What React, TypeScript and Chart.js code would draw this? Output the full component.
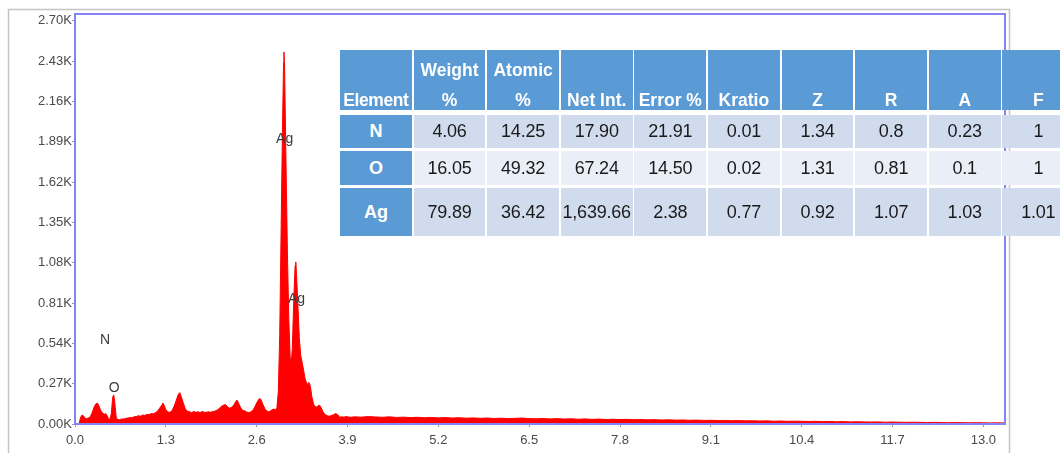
import React, { useEffect, useRef } from "react";
import { Chart, registerables } from "chart.js";

Chart.register(...registerables);

// ---- Spectrum data (energy in keV, counts) ----
const lowEnergyKeV = [
  0.06, 0.08, 0.1, 0.12, 0.14, 0.16, 0.18, 0.2, 0.22, 0.24, 0.26, 0.28, 0.3, 0.32, 0.34, 0.36, 0.38, 0.4,
  0.42, 0.44, 0.46, 0.48, 0.5, 0.52, 0.54, 0.555, 0.57, 0.59, 0.61, 0.64, 0.67, 0.7, 0.73, 0.76, 0.79, 0.82,
  0.85, 0.88, 0.91, 0.94, 0.97, 1.0, 1.03, 1.06, 1.09, 1.12, 1.15, 1.18, 1.21, 1.24, 1.26, 1.28, 1.3, 1.33,
  1.36, 1.39, 1.42, 1.45, 1.48, 1.5, 1.52, 1.55, 1.58, 1.61, 1.64, 1.67, 1.7, 1.73, 1.76, 1.79, 1.82, 1.85,
  1.88, 1.91, 1.94, 1.97, 2.0, 2.03, 2.06, 2.09, 2.12, 2.15, 2.18, 2.21, 2.24, 2.27, 2.3, 2.32, 2.34, 2.37,
  2.4, 2.43, 2.46, 2.49, 2.52, 2.55, 2.58, 2.61, 2.64, 2.66, 2.69, 2.72, 2.75, 2.78, 2.81, 2.84, 2.87, 2.89,
  2.91, 2.93, 2.95, 2.97, 2.985, 2.99, 3.0, 3.02, 3.04, 3.06, 3.08, 3.09, 3.11, 3.13, 3.15, 3.16, 3.17, 3.19,
  3.21, 3.23, 3.26, 3.29, 3.32, 3.35, 3.37, 3.39, 3.42, 3.45, 3.48, 3.5, 3.52, 3.55, 3.58, 3.61, 3.64, 3.67,
  3.7, 3.73, 3.76, 3.79, 3.82, 3.85, 3.88, 3.91, 3.95, 4.0,
];
const lowCounts = [
  5, 45, 60, 55, 40, 35, 38, 42, 50, 70, 95, 120, 135, 140, 125, 100, 80, 72,
  65, 70, 55, 35, 30, 70, 180, 195, 140, 45, 28, 30, 34, 33, 38, 40, 44, 43,
  49, 50, 56, 52, 60, 58, 64, 62, 70, 68, 76, 85, 105, 125, 140, 120, 95, 80,
  78, 90, 120, 160, 200, 210, 185, 140, 100, 85, 82, 76, 84, 78, 82, 76, 84, 79,
  78, 82, 78, 84, 86, 92, 102, 115, 125, 130, 118, 105, 112, 125, 150, 160, 140, 110,
  90, 88, 80, 76, 82, 95, 120, 150, 170, 165, 130, 100, 85, 82, 92, 100, 95, 110,
  220, 600, 1300, 2000, 2420, 2490, 2380, 1750, 1150, 700, 440, 390, 500, 820, 1060, 1085, 1010, 800,
  580, 460, 390, 310, 265, 278, 250, 180, 125, 112, 122, 126, 112, 82, 62, 56, 52, 57,
  62, 70, 62, 46, 48, 46, 50, 47, 45, 48,
];
const tailEnergyKeV = [
  4.1, 4.2, 4.3, 4.4, 4.5, 4.6, 4.7, 4.8, 4.9, 5.0, 5.1, 5.2, 5.3, 5.4, 5.5, 5.6, 5.7, 5.8, 5.9, 6.0,
  6.1, 6.2, 6.3, 6.4, 6.5, 6.6, 6.7, 6.8, 6.9, 7.0, 7.1, 7.2, 7.3, 7.4, 7.5, 7.6, 7.7, 7.8, 7.9, 8.0,
  8.1, 8.2, 8.3, 8.4, 8.5, 8.6, 8.7, 8.8, 8.9, 9.0, 9.1, 9.2, 9.3, 9.4, 9.5, 9.6, 9.7, 9.8, 9.9, 10.0,
  10.1, 10.2, 10.3, 10.4, 10.5, 10.6, 10.7, 10.8, 10.9, 11.0, 11.1, 11.2, 11.3, 11.4, 11.5, 11.6, 11.7,
  11.8, 11.9, 12.0, 12.1, 12.2, 12.3, 12.4, 12.5, 12.6, 12.7, 12.8, 12.9, 13.0, 13.1, 13.2, 13.3,
];
const tailCounts = [
  46, 50, 47, 45, 48, 44, 46, 43, 45, 42, 44, 41, 43, 40, 42, 39, 41, 38, 40, 37,
  39, 36, 38, 40, 36, 35, 37, 34, 36, 33, 35, 32, 34, 31, 33, 30, 32, 30, 31, 29,
  30, 28, 29, 27, 28, 26, 27, 25, 26, 24, 25, 23, 24, 22, 23, 21, 22, 20, 21, 19,
  20, 18, 19, 18, 17, 18, 16, 17, 15, 16, 14, 15, 14, 13, 14, 12, 13,
  12, 11, 12, 11, 10, 11, 10, 9, 10, 9, 8, 9, 8, 7, 8, 7,
];

const xTickValues = [0, 1.3, 2.6, 3.9, 5.2, 6.5, 7.8, 9.1, 10.4, 11.7, 13.0];
const yTickValues = [0, 270, 540, 810, 1080, 1350, 1620, 1890, 2160, 2430, 2700];
const xMax = 13.31;
const yMax = 2745;

const peakLabels = ["N", "O", "Ag", "Ag"];
const peakLabelEnergy = [0.43, 0.56, 3.0, 3.17];
const peakLabelCounts = [563, 240, 1910, 838];

// ---- Quantification table ----
const tableHeaders = ["Element", "Weight %", "Atomic %", "Net Int.", "Error %", "Kratio", "Z", "R", "A", "F"];
const tableElements = ["N", "O", "Ag"];
const weightPct = ["4.06", "16.05", "79.89"];
const atomicPct = ["14.25", "49.32", "36.42"];
const netInt = ["17.90", "67.24", "1,639.66"];
const errorPct = ["21.91", "14.50", "2.38"];
const kratio = ["0.01", "0.02", "0.77"];
const zFactor = ["1.34", "1.31", "0.92"];
const rFactor = ["0.8", "0.81", "1.07"];
const aFactor = ["0.23", "0.1", "1.03"];
const fFactor = ["1", "1", "1.01"];

const HEADER_BLUE = "#5B9BD5";
const ROW_DARK = "#D0DCEE";
const ROW_LIGHT = "#E9EEF7";
const TABLE_FONT = "'Liberation Sans', Arial, sans-serif";
const AXIS_FONT = "'Liberation Sans', Arial, sans-serif";

const colLeft = 340;
const colWidth = 71.8;
const colGap = 1.8;
const rowTops = [50, 115, 151, 188];
const rowHeights = [60, 33, 34, 48];

function QuantTable() {
  const columns = [weightPct, atomicPct, netInt, errorPct, kratio, zFactor, rFactor, aFactor, fFactor];
  const cells: React.ReactNode[] = [];
  tableHeaders.forEach((h, c) => {
    cells.push(
      <div
        key={"h" + c}
        style={{
          position: "absolute",
          left: colLeft + c * (colWidth + colGap),
          top: rowTops[0],
          width: colWidth,
          height: rowHeights[0],
          background: HEADER_BLUE,
          color: "#fff",
          fontWeight: "bold",
          fontSize: 17.5,
          lineHeight: "30px",
          display: "flex",
          alignItems: "flex-end",
          justifyContent: "center",
          textAlign: "center",
          whiteSpace: c === 0 ? "nowrap" : "normal",
          letterSpacing: c === 0 ? "-0.4px" : "normal",
        }}
      >
        <span style={{ position: "relative", top: 5 }}>{h}</span>
      </div>
    );
  });
  tableElements.forEach((el, r) => {
    const bg = r === 1 ? ROW_LIGHT : ROW_DARK;
    cells.push(
      <div
        key={"e" + r}
        style={{
          position: "absolute",
          left: colLeft,
          top: rowTops[r + 1],
          width: colWidth,
          height: rowHeights[r + 1],
          background: HEADER_BLUE,
          color: "#fff",
          fontWeight: "bold",
          fontSize: 18,
          display: "flex",
          alignItems: "center",
          justifyContent: "center",
        }}
      >
        {el}
      </div>
    );
    columns.forEach((col, c) => {
      cells.push(
        <div
          key={"c" + r + "_" + c}
          style={{
            position: "absolute",
            left: colLeft + (c + 1) * (colWidth + colGap),
            top: rowTops[r + 1],
            width: colWidth,
            height: rowHeights[r + 1],
            background: bg,
            color: "#1a1a1a",
            fontSize: 18,
            letterSpacing: "-0.2px",
            display: "flex",
            alignItems: "center",
            justifyContent: "center",
            whiteSpace: "nowrap",
          }}
        >
          {col[r]}
        </div>
      );
    });
  });
  return <div style={{ position: "absolute", left: 0, top: 0, fontFamily: TABLE_FONT }}>{cells}</div>;
}

export default function App() {
  const canvasRef = useRef<HTMLCanvasElement | null>(null);

  useEffect(() => {
    document.body.style.margin = "0";
    document.body.style.overflow = "hidden";
    const canvas = canvasRef.current;
    if (!canvas) return;

    const points = [
      ...lowEnergyKeV.map((e, i) => ({ x: e, y: lowCounts[i] })),
      ...tailEnergyKeV.map((e, i) => ({ x: e, y: tailCounts[i] })),
    ];

    const framePlugin = {
      id: "framePlugin",
      beforeDraw(chart: any) {
        const ctx = chart.ctx;
        ctx.save();
        ctx.fillStyle = "#ffffff";
        ctx.fillRect(0, 0, chart.width, chart.height);
        ctx.strokeStyle = "#C4C4C4";
        ctx.lineWidth = 1.5;
        ctx.beginPath();
        ctx.moveTo(8.5, 460);
        ctx.lineTo(8.5, 9.5);
        ctx.lineTo(1009.5, 9.5);
        ctx.lineTo(1009.5, 460);
        ctx.stroke();
        ctx.restore();
      },
      afterDatasetsDraw(chart: any) {
        const ctx = chart.ctx;
        const a = chart.chartArea;
        const xs = chart.scales.x;
        const ys = chart.scales.y;
        ctx.save();
        ctx.strokeStyle = "#8484F6";
        ctx.lineWidth = 2;
        ctx.strokeRect(a.left, a.top, a.right - a.left, a.bottom - a.top);
        ctx.fillStyle = "#3c3c3c";
        ctx.font = "14px " + AXIS_FONT;
        ctx.textAlign = "center";
        ctx.textBaseline = "middle";
        peakLabels.forEach((lab, i) => {
          ctx.fillText(lab, xs.getPixelForValue(peakLabelEnergy[i]), ys.getPixelForValue(peakLabelCounts[i]));
        });
        ctx.restore();
      },
    };

    const chart = new Chart(canvas, {
      type: "line",
      data: {
        datasets: [
          {
            data: points,
            borderColor: "#FF0000",
            backgroundColor: "#FF0000",
            borderWidth: 1,
            pointRadius: 0,
            fill: "origin",
            tension: 0,
          },
        ],
      },
      options: {
        responsive: false,
        animation: false,
        events: [],
        layout: { padding: { left: 0, top: 14, right: 55, bottom: 0 } },
        plugins: { legend: { display: false }, tooltip: { enabled: false } },
        scales: {
          x: {
            type: "linear",
            min: 0,
            max: xMax,
            border: { display: false },
            grid: { display: true, drawOnChartArea: false, drawTicks: true, tickLength: 3, color: "#9a9a9a" },
            afterBuildTicks: (scale: any) => {
              scale.ticks = xTickValues.map((v) => ({ value: v }));
            },
            afterFit: (scale: any) => {
              scale.height = 29;
            },
            ticks: {
              autoSkip: false,
              maxRotation: 0,
              padding: 6,
              color: "#4a4a4a",
              font: { family: AXIS_FONT, size: 13 },
              callback: (v: any) => Number(v).toFixed(1),
            },
          },
          y: {
            type: "linear",
            min: 0,
            max: yMax,
            border: { display: false },
            grid: { display: true, drawOnChartArea: false, drawTicks: true, tickLength: 3, color: "#9a9a9a" },
            afterBuildTicks: (scale: any) => {
              scale.ticks = yTickValues.map((v) => ({ value: v }));
            },
            afterFit: (scale: any) => {
              scale.width = 75;
            },
            ticks: {
              autoSkip: false,
              padding: 0,
              color: "#4a4a4a",
              font: { family: AXIS_FONT, size: 13 },
              callback: (v: any) => (Number(v) / 1000).toFixed(2) + "K",
            },
          },
        },
      },
      plugins: [framePlugin],
    } as any);

    return () => chart.destroy();
  }, []);

  return (
    <div style={{ position: "relative", width: 1060, height: 453, overflow: "hidden", background: "#fff" }}>
      <canvas ref={canvasRef} width={1060} height={453} style={{ position: "absolute", left: 0, top: 0 }} />
      <QuantTable />
    </div>
  );
}
